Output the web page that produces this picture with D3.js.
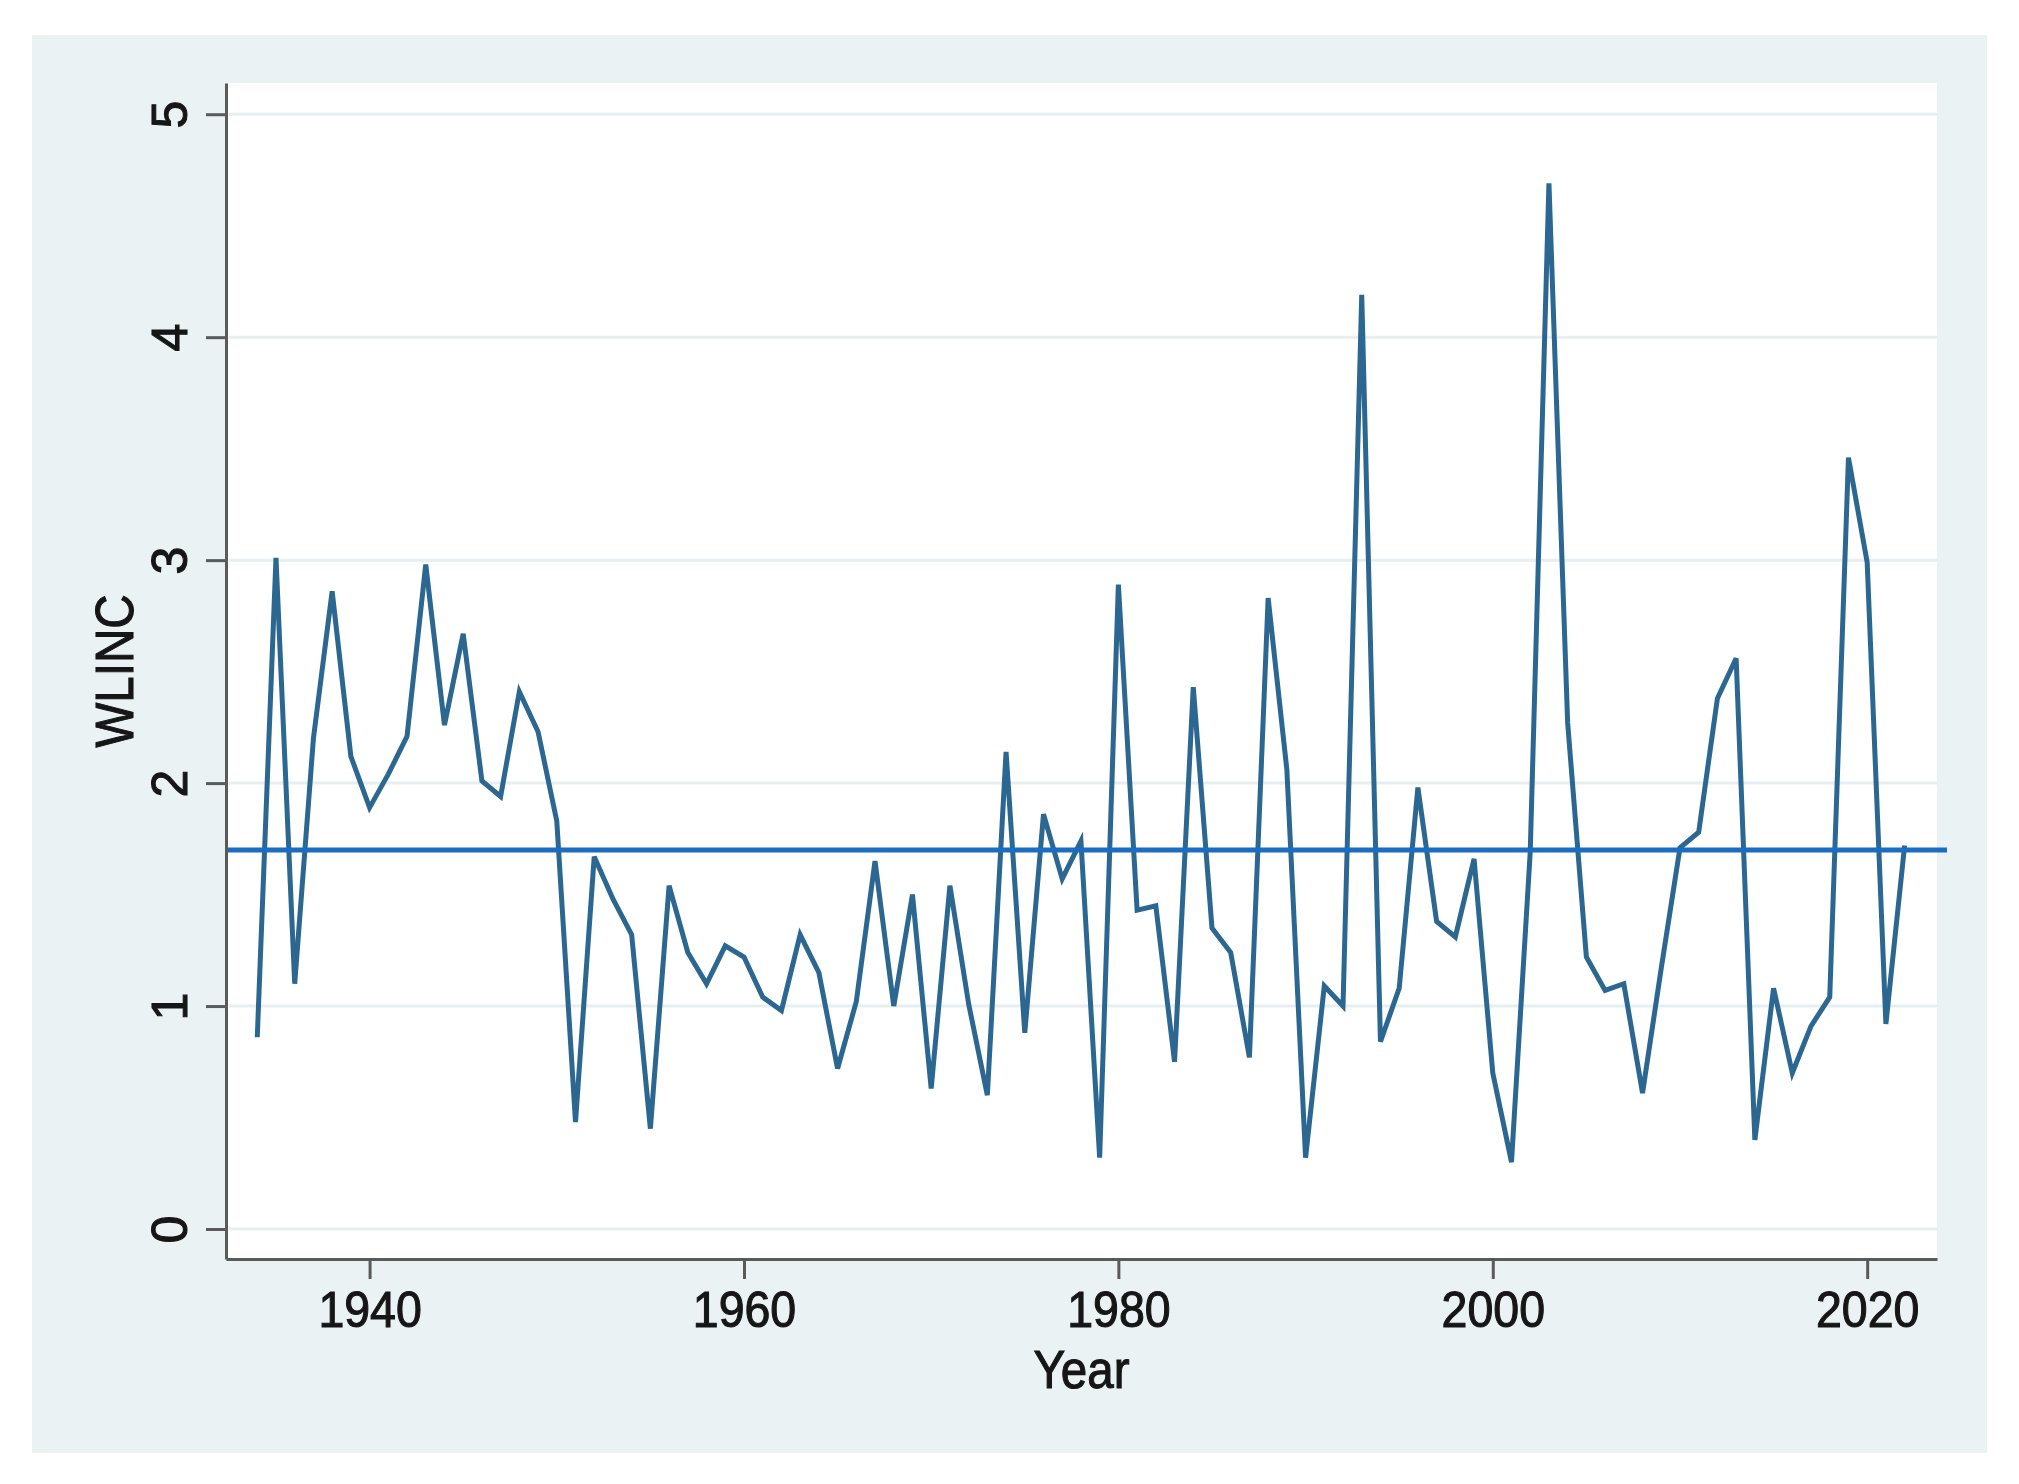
<!DOCTYPE html>
<html>
<head>
<meta charset="utf-8">
<script src="https://cdn.jsdelivr.net/npm/d3@7"></script>
<style>
  body { margin: 0; background: #fff; }
  text { font-family: "Liberation Sans", Arial, Helvetica, sans-serif; fill: #161616; stroke: #161616; stroke-width: 1.1px; }
</style>
</head>
<body>
<svg id="chart" width="2019" height="1484"></svg>
<script>
// values, one per year
const years = [
  1934, 1935, 1936, 1937, 1938, 1939, 1940, 1941, 1942, 1943,
  1944, 1945, 1946, 1947, 1948, 1949, 1950, 1951, 1952, 1953,
  1954, 1955, 1956, 1957, 1958, 1959, 1960, 1961, 1962, 1963,
  1964, 1965, 1966, 1967, 1968, 1969, 1970, 1971, 1972, 1973,
  1974, 1975, 1976, 1977, 1978, 1979, 1980, 1981, 1982, 1983,
  1984, 1985, 1986, 1987, 1988, 1989, 1990, 1991, 1992, 1993,
  1994, 1995, 1996, 1997, 1998, 1999, 2000, 2001, 2002, 2003,
  2004, 2005, 2006, 2007, 2008, 2009, 2010, 2011, 2012, 2013,
  2014, 2015, 2016, 2017, 2018, 2019, 2020, 2021, 2022
];
const wlinc = [
  0.86, 3.01, 1.10, 2.20, 2.86, 2.12, 1.89, 2.04, 2.21, 2.98,
  2.26, 2.67, 2.01, 1.94, 2.41, 2.23, 1.83, 0.48, 1.67, 1.48,
  1.32, 0.45, 1.54, 1.24, 1.10, 1.27, 1.22, 1.04, 0.98, 1.32,
  1.15, 0.72, 1.02, 1.65, 1.00, 1.50, 0.63, 1.54, 1.01, 0.60,
  2.14, 0.88, 1.86, 1.57, 1.74, 0.32, 2.89, 1.43, 1.45, 0.75,
  2.43, 1.35, 1.24, 0.77, 2.83, 2.06, 0.32, 1.09, 1.00, 4.19,
  0.84, 1.08, 1.98, 1.38, 1.31, 1.66, 0.70, 0.30, 1.69, 4.69,
  2.27, 1.22, 1.07, 1.10, 0.61, 1.17, 1.71, 1.78, 2.38, 2.56,
  0.40, 1.08, 0.70, 0.91, 1.04, 3.46, 2.99, 0.92, 1.72
];
const meanLevel = 1.70;
const xTicks = [1940, 1960, 1980, 2000, 2020];
const yTicks = [0, 1, 2, 3, 4, 5];
const xTitle = "Year";
const yTitle = "WLINC";

const data = years.map((yr, i) => ({ year: yr, value: wlinc[i] }));

const svg = d3.select("#chart");
const panel = { x: 32, y: 35, w: 1955, h: 1418 };
const plot = { left: 226, right: 1937, top: 83, bottom: 1259 };

const xScale = d3.scaleLinear().domain([1932.33, 2023.73]).range([plot.left, plot.right]);
const yScale = d3.scaleLinear().domain([-0.1345, 5.14]).range([plot.bottom, plot.top]);

const axisColor = "#5a5a5a";

// graph region and plot region
svg.append("rect")
  .attr("x", panel.x).attr("y", panel.y)
  .attr("width", panel.w).attr("height", panel.h)
  .attr("fill", "#eaf2f3");
svg.append("rect")
  .attr("x", plot.left).attr("y", plot.top)
  .attr("width", plot.right - plot.left).attr("height", plot.bottom - plot.top)
  .attr("fill", "#fff");

// gridlines
svg.append("g")
  .selectAll("line")
  .data(yTicks)
  .join("line")
  .attr("x1", plot.left + 3).attr("x2", plot.right)
  .attr("y1", d => yScale(d)).attr("y2", d => yScale(d))
  .attr("stroke", "#e5eff1")
  .attr("stroke-width", 3);

// series
const line = d3.line().x(d => xScale(d.year)).y(d => yScale(d.value));
svg.append("path")
  .datum(data)
  .attr("d", line)
  .attr("fill", "none")
  .attr("stroke", "#2b6791")
  .attr("stroke-width", 5)
  .attr("stroke-linejoin", "miter");

// mean line (runs slightly past the plot region, as in the original)
svg.append("line")
  .attr("x1", plot.left).attr("x2", plot.right + 10)
  .attr("y1", yScale(meanLevel)).attr("y2", yScale(meanLevel))
  .attr("stroke", "#1b6cc3")
  .attr("stroke-width", 5);

// y axis
const gy = svg.append("g")
  .attr("transform", `translate(${plot.left},0)`)
  .call(d3.axisLeft(yScale).tickValues(yTicks).tickSize(20).tickSizeOuter(0).tickFormat(d3.format("d")))
  .attr("font-family", null).attr("font-size", null);
gy.select(".domain").attr("stroke", axisColor).attr("stroke-width", 3);
gy.selectAll(".tick line").attr("stroke", axisColor).attr("stroke-width", 3);
gy.selectAll(".tick text")
  .attr("x", 0).attr("dy", 0)
  .attr("text-anchor", "middle")
  .attr("transform", "translate(-39,0) rotate(-90)")
  .style("font-size", "50px")
  .attr("fill", "#161616");

// x axis
const gx = svg.append("g")
  .attr("transform", `translate(0,${plot.bottom})`)
  .call(d3.axisBottom(xScale).tickValues(xTicks).tickSize(20).tickSizeOuter(0).tickFormat(d3.format("d")))
  .attr("font-family", null).attr("font-size", null);
gx.select(".domain").attr("stroke", axisColor).attr("stroke-width", 3);
gx.selectAll(".tick line").attr("stroke", axisColor).attr("stroke-width", 3);
gx.selectAll(".tick text")
  .attr("y", 68).attr("dy", 0)
  .attr("transform", "scale(0.93,1)")
  .style("font-size", "50px")
  .attr("fill", "#161616");

// axis titles
svg.append("text")
  .attr("transform", `translate(${(plot.left + plot.right) / 2},1388) scale(0.88,1)`)
  .attr("text-anchor", "middle")
  .style("font-size", "54px")
  .text(xTitle);
svg.append("text")
  .attr("transform", `translate(133,${(plot.top + plot.bottom) / 2}) rotate(-90) scale(0.88,1)`)
  .attr("text-anchor", "middle")
  .style("font-size", "54px")
  .text(yTitle);
</script>
</body>
</html>
